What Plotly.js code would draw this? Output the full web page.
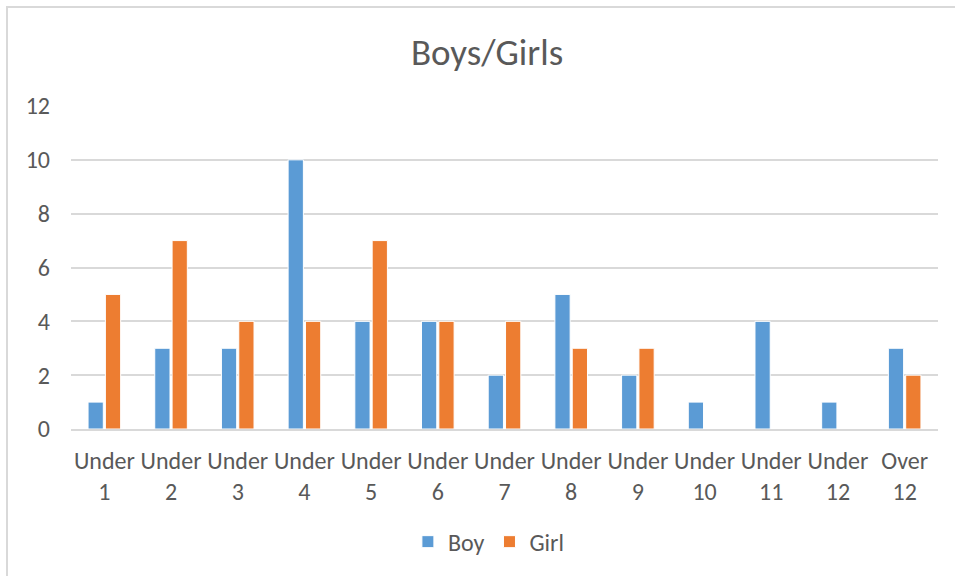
<!DOCTYPE html>
<html>
<head>
<meta charset="utf-8">
<script src="https://cdn.plot.ly/plotly-3.0.1.min.js"></script>
<style>
html,body{margin:0;padding:0;background:#fff;overflow:hidden;}
#frame{position:absolute;left:6px;top:6px;width:960px;height:600px;border-left:2px solid #d9d9d9;border-top:2px solid #d9d9d9;pointer-events:none;box-sizing:border-box;}
#chart{width:955px;height:576px;}
</style>
</head>
<body>
<div id="chart"></div>
<div id="frame"></div>
<script>
const categories = ["Under<br>1","Under<br>2","Under<br>3","Under<br>4","Under<br>5","Under<br>6","Under<br>7","Under<br>8","Under<br>9","Under<br>10","Under<br>11","Under<br>12","Over<br>12"];
const boyValues  = [1,3,3,10,4,4,2,5,2,1,4,1,3];
const girlValues = [5,7,4,4,7,4,4,3,3,0,0,0,2];
const yTicks = [0,2,4,6,8,10,12];

const font = "Calibri, Carlito, 'Open Sans', sans-serif";
const traces = [
  {type:'bar', name:'Boy', x:categories, y:boyValues,
   marker:{color:'#5B9BD5', line:{color:'#ffffff', width:1}}},
  {type:'bar', name:'Girl', x:categories, y:girlValues,
   marker:{color:'#ED7D31', line:{color:'#ffffff', width:1}}}
];
const layout = {
  width:955, height:576,
  margin:{l:71, r:17, t:106, b:144},
  paper_bgcolor:'#ffffff', plot_bgcolor:'#ffffff',
  font:{family:font, color:'#595959', size:24},
  title:{text:'Boys/Girls', x:0.51, xanchor:'center', y:0.91, yanchor:'middle', font:{size:37, color:'#595959', family:font}},
  barmode:'group', bargap:0.48, bargroupgap:0.12,
  showlegend:true,
  legend:{orientation:'h', x:0.482, xanchor:'center', y:-0.35, yanchor:'middle', font:{size:24, color:'#595959'}, itemwidth:30, tracegroupgap:0},
  xaxis:{type:'category', showgrid:false, showline:true, linecolor:'#d9d9d9', linewidth:2, ticks:'', ticklabelstandoff:9, tickfont:{size:24, color:'#595959'}, fixedrange:true, automargin:false},
  yaxis:{range:[0,12], tickvals:yTicks, ticktext:yTicks.map(String), showgrid:true, gridcolor:'#d9d9d9', gridwidth:2, zeroline:false, showline:false, ticks:'', ticklabelstandoff:20, tickfont:{size:24, color:'#595959'}, fixedrange:true, automargin:false}
};
Plotly.newPlot('chart', traces, layout, {displayModeBar:false, staticPlot:true});
</script>
</body>
</html>
